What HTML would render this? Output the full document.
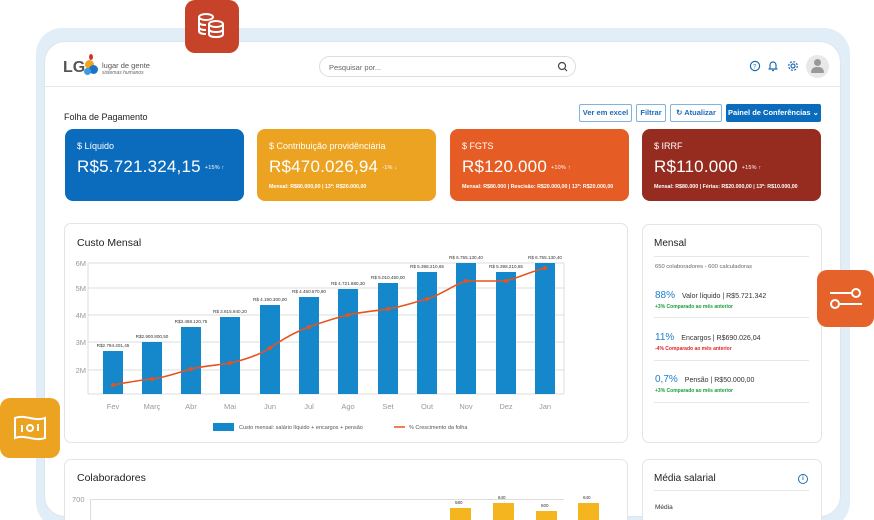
<!DOCTYPE html>
<html style="width:874px;height:520px;overflow:hidden"><head><meta charset="utf-8"><style>
*{margin:0;padding:0;box-sizing:border-box}
body{width:874px;height:520px;overflow:hidden;background:#fff;font-family:"Liberation Sans",sans-serif;position:relative;color:#333}
.a{position:absolute}
.frame{left:36px;top:28px;width:814px;height:500px;background:#e1edf7;border-radius:26px}
.inner{left:45px;top:42px;width:795px;height:474px;background:#fff;border-radius:20px;box-shadow:0 0 2px rgba(0,0,0,.08)}
.card{border-radius:8px;color:#fff}
.card .t{position:absolute;left:12px;top:12px;font-size:9px}
.card .v{position:absolute;left:12px;top:28px;font-size:17px;letter-spacing:.2px}
.card .v small{font-size:5.5px;margin-left:4px;vertical-align:middle}
.card .f{position:absolute;left:12px;top:55px;font-size:5.3px;font-weight:bold}
.btn{top:104px;height:18px;border:1px solid #7fb3e0;border-radius:2px;font-size:7.5px;color:#1d6bb5;font-weight:bold;text-align:center;line-height:16px}
.panel{background:#fff;border:1px solid #e4e4e4;border-radius:7px}
.ic{border-radius:10px}
</style></head><body>
<div class="a frame"></div>
<div class="a inner"></div>
<div class="a ic" style="left:185px;top:0;width:54px;height:53px;background:#c6432a"></div>
<svg class="a" style="left:196px;top:13px" width="32" height="26" viewBox="0 0 32 26" fill="none" stroke="#fff" stroke-width="2"><ellipse cx="10" cy="4" rx="7" ry="3"/><path d="M3 4v14c0 2 3 3 7 3M3 9c0 2 3 3 7 3M3 14c0 2 3 3 7 3"/><ellipse cx="20" cy="11" rx="7" ry="3"/><path d="M13 11v10c0 2 3 3 7 3s7-1 7-3V11M13 16c0 2 3 3 7 3s7-1 7-3"/></svg>
<div class="a" style="left:45px;top:86px;width:795px;height:1px;background:#e6e6e6"></div>
<!-- logo -->
<div class="a" style="left:63px;top:59px;font-size:16px;font-weight:bold;color:#555">LG</div>
<div class="a" style="left:85px;top:60px;width:9px;height:9px;border-radius:50%;background:#f2a421"></div>
<div class="a" style="left:89px;top:65px;width:9px;height:9px;border-radius:50%;background:#1a73c8"></div>
<div class="a" style="left:84px;top:68px;width:7px;height:7px;border-radius:50%;background:#3b9be0"></div>
<div class="a" style="left:89px;top:54px;width:4px;height:6px;border-radius:50%;background:#d8322a"></div>
<div class="a" style="left:102px;top:61px;font-size:7.5px;color:#555">lugar de gente</div>
<div class="a" style="left:102px;top:70px;font-size:5px;color:#666;font-style:italic">sistemas humanos</div>
<!-- search -->
<div class="a" style="left:319px;top:56px;width:257px;height:21px;border:1px solid #ddd;border-radius:11px;font-size:7.5px;color:#666;padding:6px 0 0 9px">Pesquisar por...</div>
<svg class="a" style="left:557px;top:61px" width="11" height="11"><circle cx="5" cy="5" r="3.5" fill="none" stroke="#444" stroke-width="1.2"/><path d="M7.5 7.5l2.5 2.5" stroke="#444" stroke-width="1.2"/></svg>
<svg class="a" style="left:749px;top:60px" width="52" height="12" fill="none" stroke="#1d6bb5" stroke-width="1.2"><circle cx="6" cy="6" r="4.6"/><text x="4" y="8.5" font-size="6" fill="#1d6bb5" stroke="none" font-family="Liberation Sans">?</text><path d="M21 9V5a3 3 0 0 1 6 0v4h1.5M19.5 9h8M23 10.5h2"/><circle cx="44" cy="6" r="2"/><circle cx="44" cy="6" r="4.3" stroke-dasharray="2 1.4"/></svg>
<div class="a" style="left:806px;top:55px;width:23px;height:23px;border-radius:50%;background:#e8e8e8"></div>
<div class="a" style="left:814px;top:59px;width:7px;height:7px;border-radius:50%;background:#999"></div>
<div class="a" style="left:811px;top:67px;width:13px;height:6px;border-radius:6px 6px 1px 1px;background:#999"></div>
<!-- title & buttons -->
<div class="a" style="left:64px;top:112px;font-size:9px;color:#222">Folha de Pagamento</div>
<div class="a btn" style="left:579px;width:53px">Ver em excel</div>
<div class="a btn" style="left:636px;width:30px">Filtrar</div>
<div class="a btn" style="left:670px;width:52px">↻ Atualizar</div>
<div class="a btn" style="left:726px;width:95px;background:#0b6cbd;border-color:#0b6cbd;color:#fff">Painel de Conferências ⌄</div>
<!-- cards -->
<div class="a card" style="left:65px;top:129px;width:179px;height:72px;background:#0b6cbd"><div class="t">$ Líquido</div><div class="v">R$5.721.324,15<small>+15% ↑</small></div></div>
<div class="a card" style="left:257px;top:129px;width:179px;height:72px;background:#eda322"><div class="t">$ Contribuição providênciária</div><div class="v">R$470.026,94<small>-1% ↓</small></div><div class="f">Mensal: R$80.000,00 | 13º: R$20.000,00</div></div>
<div class="a card" style="left:450px;top:129px;width:179px;height:72px;background:#e55d24"><div class="t">$ FGTS</div><div class="v">R$120.000<small>+10% ↑</small></div><div class="f">Mensal: R$80.000 | Rescisão: R$20.000,00 | 13º: R$20.000,00</div></div>
<div class="a card" style="left:642px;top:129px;width:179px;height:72px;background:#962b20"><div class="t">$ IRRF</div><div class="v">R$110.000<small>+15% ↑</small></div><div class="f">Mensal: R$80.000 | Férias: R$20.000,00 | 13º: R$10.000,00</div></div>
<!-- chart panel -->
<div class="a panel" style="left:64px;top:223px;width:564px;height:220px"></div>
<div class="a" style="left:77px;top:237px;font-size:10.5px;color:#222">Custo Mensal</div>
<svg class="a" style="left:0;top:0" width="874" height="520" font-family="Liberation Sans">
<g stroke="#ddd" stroke-width="1"><line x1="88" y1="263" x2="564" y2="263"/><line x1="88" y1="288" x2="564" y2="288"/><line x1="88" y1="315" x2="564" y2="315"/><line x1="88" y1="342" x2="564" y2="342"/><line x1="88" y1="370" x2="564" y2="370"/><line x1="88" y1="394" x2="564" y2="394"/><line x1="88" y1="263" x2="88" y2="394"/><line x1="564" y1="263" x2="564" y2="394"/></g>
<g fill="#999" font-size="7.5" text-anchor="end"><text x="86" y="266">6M</text><text x="86" y="291">5M</text><text x="86" y="318">4M</text><text x="86" y="345">3M</text><text x="86" y="373">2M</text></g>
<g fill="#1587cb">
<rect x="103" y="351" width="20" height="43"/><rect x="142" y="342" width="20" height="52"/><rect x="181" y="327" width="20" height="67"/><rect x="220" y="317" width="20" height="77"/><rect x="260" y="305" width="20" height="89"/><rect x="299" y="297" width="20" height="97"/><rect x="338" y="289" width="20" height="105"/><rect x="378" y="283" width="20" height="111"/><rect x="417" y="272" width="20" height="122"/><rect x="456" y="263" width="20" height="131"/><rect x="496" y="272" width="20" height="122"/><rect x="535" y="263" width="20" height="131"/></g>
<g fill="#333" font-size="4.6" text-anchor="middle">
<text x="113" y="347">R$2.794.401,45</text><text x="152" y="338">R$2.900.800,50</text><text x="191" y="323">R$3.488.120,75</text><text x="230" y="313">R$ 3.815.940,20</text><text x="270" y="301">R$ 4.190.300,00</text><text x="309" y="293">R$ 4.450.670,90</text><text x="348" y="285">R$ 4.721.880,30</text><text x="388" y="279">R$ 5.010.450,00</text><text x="427" y="268">R$ 5.398.210,65</text><text x="466" y="259">R$ 6.755.130,40</text><text x="506" y="268">R$ 5.398.210,65</text><text x="545" y="259">R$ 6.755.130,40</text></g>
<path d="M113 385 C130 382 140 380 152 379 S180 372 191 369 S220 365 230 363 S260 355 270 348 S295 332 309 327 S335 318 348 315 S375 311 388 309 S415 302 427 299 S455 284 466 281 L506 281 C520 277 530 272 545 268" fill="none" stroke="#e8531d" stroke-width="1.6"/>
<g fill="#e8531d"><circle cx="113" cy="385" r="2"/><circle cx="152" cy="379" r="2"/><circle cx="191" cy="369" r="2"/><circle cx="230" cy="363" r="2"/><circle cx="270" cy="348" r="2"/><circle cx="309" cy="327" r="2"/><circle cx="348" cy="315" r="2"/><circle cx="388" cy="309" r="2"/><circle cx="427" cy="299" r="2"/><circle cx="466" cy="281" r="2"/><circle cx="506" cy="281" r="2"/><circle cx="545" cy="268" r="2"/></g>
<g fill="#999" font-size="7.5" text-anchor="middle"><text x="113" y="409">Fev</text><text x="152" y="409">Març</text><text x="191" y="409">Abr</text><text x="230" y="409">Mai</text><text x="270" y="409">Jun</text><text x="309" y="409">Jul</text><text x="348" y="409">Ago</text><text x="388" y="409">Set</text><text x="427" y="409">Out</text><text x="466" y="409">Nov</text><text x="506" y="409">Dez</text><text x="545" y="409">Jan</text></g>
<rect x="213" y="423" width="21" height="8" fill="#1587cb"/><text x="239" y="429" font-size="5.5" fill="#555">Custo mensal: salário líquido + encargos + pensão</text>
<line x1="394" y1="427" x2="405" y2="427" stroke="#e8531d" stroke-width="1.5"/><text x="409" y="429" font-size="5.5" fill="#555">% Crescimento da folha</text>
</svg>
<!-- Mensal panel -->
<div class="a panel" style="left:642px;top:224px;width:180px;height:219px"></div>
<div class="a" style="left:654px;top:238px;font-size:10px;color:#222">Mensal</div>
<div class="a" style="left:654px;top:256px;width:155px;height:1px;background:#e6e6e6"></div>
<div class="a" style="left:655px;top:264px;font-size:5.8px;color:#666">650 colaboradores - 600 calculadoras</div>
<div class="a" style="left:655px;top:290px;font-size:10px;color:#1d7ecb">88%<span style="font-size:7px;color:#333;margin-left:7px">Valor líquido | R$5.721.342</span></div>
<div class="a" style="left:655px;top:304px;font-size:5px;color:#1a9e3c;font-weight:bold">+3% Comparado ao mês anterior</div>
<div class="a" style="left:654px;top:317px;width:155px;height:1px;background:#e6e6e6"></div>
<div class="a" style="left:655px;top:332px;font-size:10px;color:#1d7ecb">11%<span style="font-size:7px;color:#333;margin-left:7px">Encargos | R$690.026,04</span></div>
<div class="a" style="left:655px;top:346px;font-size:5px;color:#e0262a;font-weight:bold">-4% Comparado ao mês anterior</div>
<div class="a" style="left:654px;top:360px;width:155px;height:1px;background:#e6e6e6"></div>
<div class="a" style="left:655px;top:374px;font-size:10px;color:#1d7ecb">0,7%<span style="font-size:7px;color:#333;margin-left:7px">Pensão | R$50.000,00</span></div>
<div class="a" style="left:655px;top:388px;font-size:5px;color:#1a9e3c;font-weight:bold">+3% Comparado ao mês anterior</div>
<div class="a" style="left:654px;top:402px;width:155px;height:1px;background:#e6e6e6"></div>
<!-- bottom panels -->
<div class="a panel" style="left:64px;top:459px;width:564px;height:70px"></div>
<div class="a" style="left:77px;top:472px;font-size:10.5px;color:#222">Colaboradores</div>
<div class="a" style="left:72px;top:495px;font-size:7.5px;color:#999">700</div>
<div class="a" style="left:90px;top:499px;width:474px;height:1px;background:#ddd"></div>
<div class="a" style="left:90px;top:499px;width:1px;height:30px;background:#ddd"></div>
<div class="a" style="left:450px;top:508px;width:21px;height:20px;background:#f5b51e"></div>
<div class="a" style="left:493px;top:503px;width:21px;height:20px;background:#f5b51e"></div>
<div class="a" style="left:536px;top:511px;width:21px;height:20px;background:#f5b51e"></div>
<div class="a" style="left:578px;top:503px;width:21px;height:20px;background:#f5b51e"></div>
<div class="a" style="left:455px;top:500px;font-size:4.5px">580</div>
<div class="a" style="left:498px;top:495px;font-size:4.5px">640</div>
<div class="a" style="left:541px;top:503px;font-size:4.5px">500</div>
<div class="a" style="left:583px;top:495px;font-size:4.5px">640</div>
<div class="a panel" style="left:642px;top:459px;width:180px;height:70px"></div>
<div class="a" style="left:654px;top:473px;font-size:10px;color:#222">Média salarial</div>
<div class="a" style="left:798px;top:474px;width:10px;height:10px;border:1.2px solid #1d6bb5;border-radius:50%;font-size:6px;color:#1d6bb5;text-align:center;line-height:8px;font-weight:bold">i</div>
<div class="a" style="left:654px;top:490px;width:155px;height:1px;background:#e6e6e6"></div>
<div class="a" style="left:655px;top:504px;font-size:6.5px;color:#333">Média</div>
<!-- floating icons -->
<div class="a ic" style="left:817px;top:270px;width:57px;height:57px;background:#e5622a"></div>
<svg class="a" style="left:828px;top:283px" width="36" height="30" fill="none" stroke="#fff" stroke-width="2"><line x1="2" y1="10" x2="24" y2="10"/><circle cx="28" cy="10" r="4"/><circle cx="7" cy="21" r="4"/><line x1="11" y1="21" x2="34" y2="21"/></svg>
<div class="a ic" style="left:0;top:398px;width:60px;height:60px;background:#eda322"></div>
<svg class="a" style="left:13px;top:413px" width="34" height="30" fill="none" stroke="#fff" stroke-width="2"><path d="M2 5c10-4 20 4 30 0v20c-10 4-20-4-30 0z"/><line x1="9" y1="12" x2="9" y2="19"/><circle cx="17" cy="15" r="3"/><line x1="25" y1="11" x2="25" y2="18"/></svg>
</body></html>
